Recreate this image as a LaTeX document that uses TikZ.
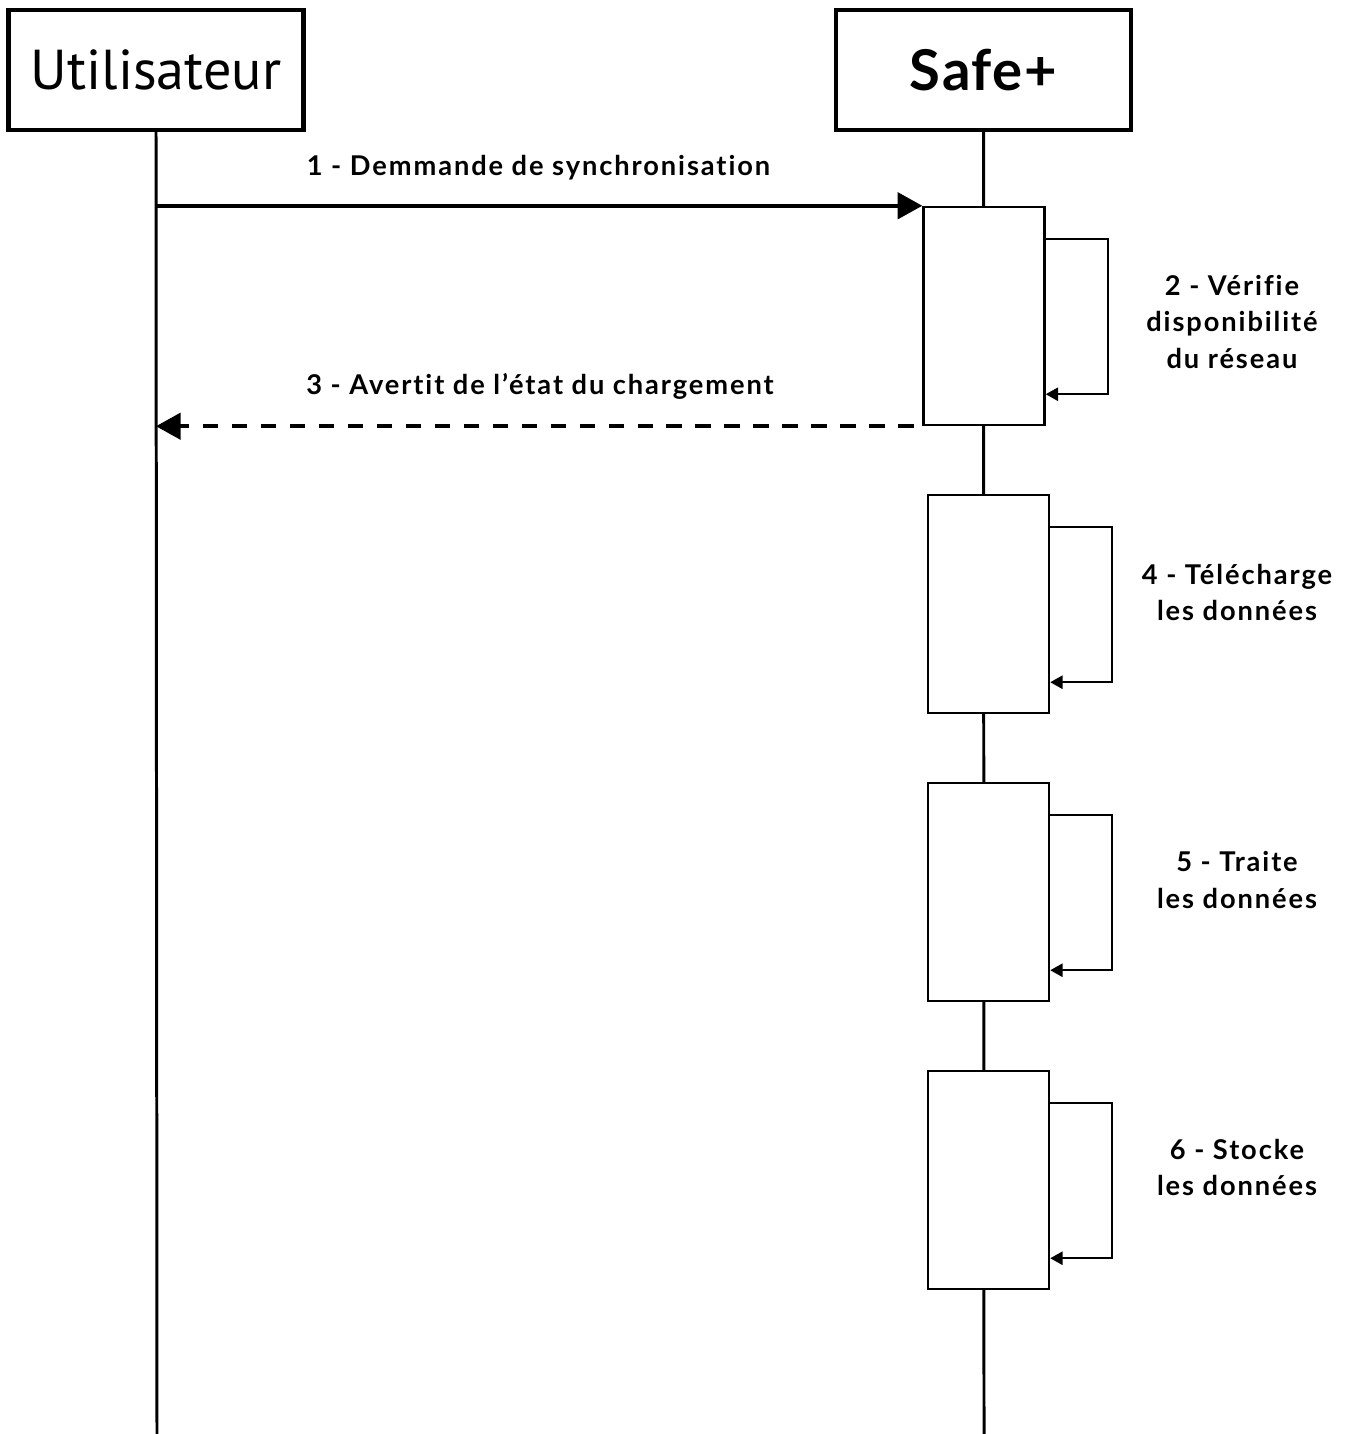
\documentclass[tikz,border=0pt]{standalone}
\usepackage{fontspec}
\setmainfont{Lato}[Ligatures=NoCommon,LetterSpace=7]
\newfontfamily\headfont{PT Sans}
\newfontfamily\safefont{Lato}[LetterSpace=3]
\usetikzlibrary{arrows.meta}
\usetikzlibrary{calc}
\usetikzlibrary{positioning}

\tikzset{
  head/.style={draw=black,line width=2.3pt,fill=white,minimum width=5.9cm,minimum height=2.4cm,inner sep=0pt},
  life/.style={draw=black,line width=1.7pt},
  act/.style={draw=black,line width=1.4pt,fill=white,minimum width=2.42cm,minimum height=4.36cm,inner sep=0pt},
  self/.style={draw=black,line width=1.2pt,-{Triangle[length=7pt,width=7.5pt]}},
  call/.style={draw=black,line width=2pt,-{Triangle[length=14pt,width=15pt]}},
  back/.style={draw=black,line width=2pt,dash pattern=on 9pt off 7.5pt,-{Triangle[length=14pt,width=15pt]}},
  lbl/.style={font=\bfseries\fontsize{15.5}{20.5}\selectfont,text=black,align=center,inner sep=0pt},
}

\begin{document}
\begin{tikzpicture}[x=0.2mm,y=-0.2mm]
\useasboundingbox (0,0) rectangle (1354,1434);

% lifelines
\node[head,font=\headfont\fontsize{32}{38}\selectfont] (user) at (156,70) {Utilisateur};
\node[head,font=\safefont\bfseries\fontsize{32}{38}\selectfont] (safe) at (983.5,70) {Safe+};
\coordinate (userEnd) at (157,1434);
\coordinate (safeEnd) at (984,1434);
\draw[life] (user.south) -- (userEnd);
\draw[life] (safe.south) -- (safeEnd);

% activation boxes
\node[act] (a1) at (984,316) {};
\node[act] (a2) at (988.5,604) {};
\node[act] (a3) at (988.5,892) {};
\node[act] (a4) at (988.5,1180) {};

% self calls
\foreach \b in {a1,a2,a3,a4}{
  \draw[self] ($(\b.north east)+(0,33)$) -- ++(62,0) |- ($(\b.south east)+(0,-32)$);
}

% messages
\draw[call] (user.south |- a1.north) -- (a1.north west);
\node[lbl] (m1) at (538.5,168) {1 - Demmande de synchronisation};
\draw[back] ($(a1.south west)+(-8,0)$) -- (user.south |- a1.south);
\node[lbl] (m3) at (540,386) {3 - Avertit de l’état du chargement};

\node[lbl] (m2) at (1232,322) {2 - Vérifie\\disponibilité\\du réseau};
\node[lbl] (m4) at (1237,592) {4 - Télécharge\\les données};
\node[lbl] (m5) at (1237,880) {5 - Traite\\les données};
\node[lbl] (m6) at (1237,1167) {6 - Stocke\\les données};

\end{tikzpicture}
\end{document}
